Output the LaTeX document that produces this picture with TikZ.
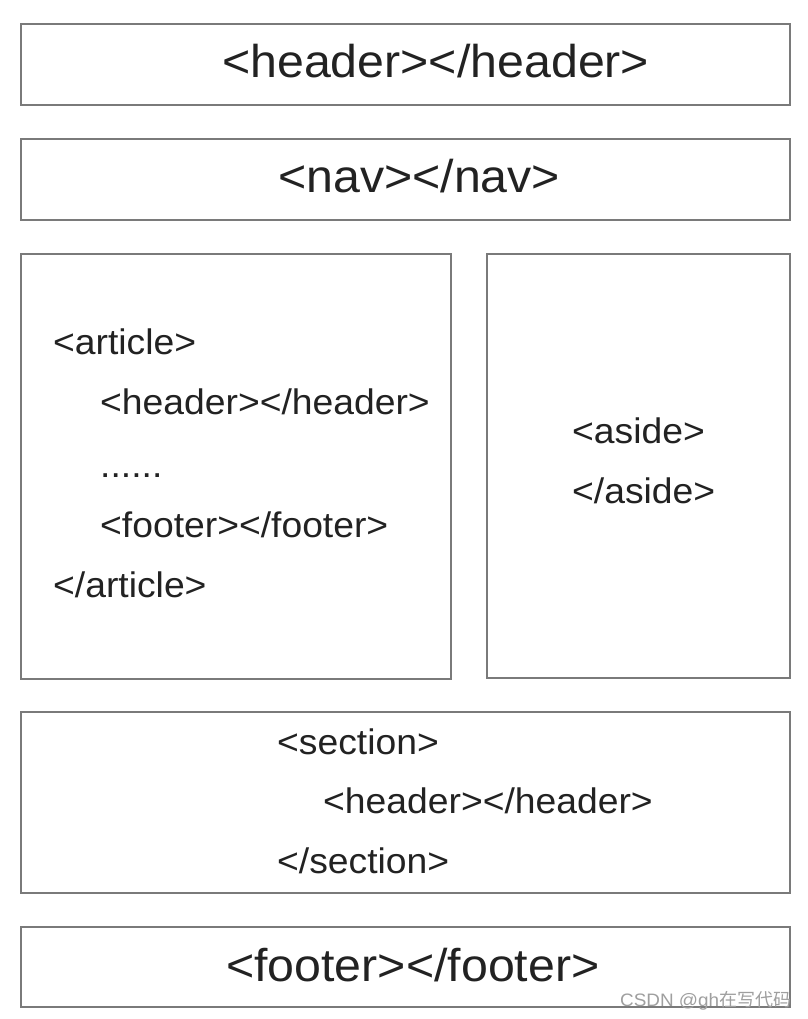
\documentclass[tikz,border=0pt]{standalone}
\usepackage{fontspec}
\setmainfont{Liberation Sans}[FakeStretch=1.05]
\newfontfamily\cjk{Noto Sans CJK SC}
\definecolor{boxgray}{HTML}{7A7A7A}
\definecolor{inkgray}{HTML}{222222}
\tikzset{
  tagbox/.style={draw=boxgray, line width=1.8pt, inner sep=0pt},
  bigtag/.style={inner sep=0pt, anchor=base west, text=inkgray, font=\fontsize{46}{50}\selectfont},
  smalltag/.style={inner sep=0pt, anchor=base west, text=inkgray, font=\fontsize{35.5}{40}\selectfont}
}
\begin{document}
\begin{tikzpicture}[x=1pt, y=-1pt]
  \useasboundingbox[fill=white] (0,0) rectangle (807,1019);

  % Outer boxes

  \node[tagbox, minimum width=769pt, minimum height=81pt] (hdrbox) at (405.5,64.5) {};
  \node[tagbox, minimum width=769pt, minimum height=81pt] (navbox) at (405.5,179.5) {};
  \node[tagbox, minimum width=430pt, minimum height=425pt] (artbox) at (236,466.5) {};
  \node[tagbox, minimum width=303pt, minimum height=424pt] (asidebox) at (638.5,466) {};
  \node[tagbox, minimum width=769pt, minimum height=181pt] (secbox) at (405.5,802.5) {};
  \node[tagbox, minimum width=769pt, minimum height=80pt] (ftrbox) at (405.5,967) {};

  % Single-line tags

  \node[bigtag] (hdrtxt) at (222,78) {<header></header>};
  \node[bigtag] (navtxt) at (278,193) {<nav></nav>};
  \node[bigtag] (ftrtxt) at (226,981) {<footer></footer>};

  % Article

  \node[smalltag] (art1) at (53,354) {<article>};
  \node[smalltag] (art2) at (100,414) {<header></header>};
  \node[smalltag] (art3) at (100,477) {......};
  \node[smalltag] (art4) at (100,537) {<footer></footer>};
  \node[smalltag] (art5) at (53,597) {</article>};

  % Aside

  \node[smalltag] (aside1) at (572,443) {<aside>};
  \node[smalltag] (aside2) at (572,503) {</aside>};

  % Section

  \node[smalltag] (sec1) at (277,754) {<section>};
  \node[smalltag] (sec2) at (323,813) {<header></header>};
  \node[smalltag] (sec3) at (277,873) {</section>};

  % Watermark

  \node[inner sep=0pt, anchor=base west, text=gray!75, font=\fontsize{18}{20}\selectfont] (mark) at (620,1006) {CSDN @gh{\cjk 在写代码}};
\end{tikzpicture}
\end{document}
